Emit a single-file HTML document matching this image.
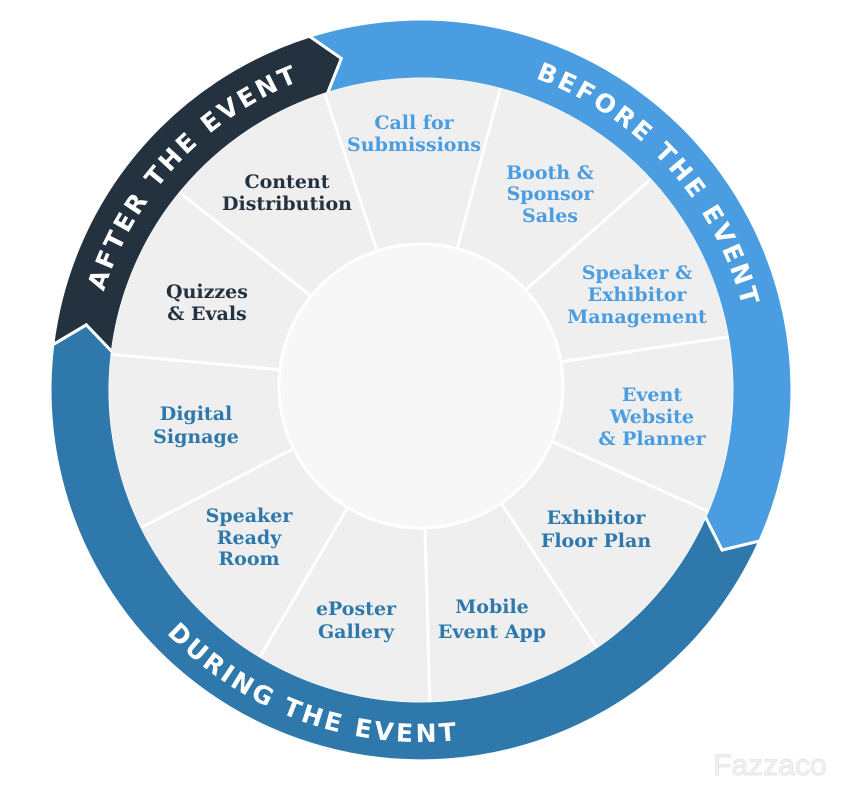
<!DOCTYPE html>
<html><head><meta charset="utf-8"><style>
html,body{margin:0;padding:0;background:#fff;width:856px;height:793px;overflow:hidden}
svg{display:block}
.lb{font-family:"DejaVu Serif","Liberation Serif",serif;font-weight:bold;font-size:19px;text-anchor:middle}
.ring{font-family:"DejaVu Sans","Liberation Sans",sans-serif;font-weight:bold;font-size:25px;fill:#fff;letter-spacing:3px}
.b{fill:#4a9de0}.d{fill:#2f78ab}.a{fill:#24323f}
</style></head><body>
<svg id="s" width="856" height="793" viewBox="0 0 856 793" xmlns="http://www.w3.org/2000/svg">
<defs>
<path id="pA" d="M103.5,487.1 A332,332 0 0 1 495.7,66.5"/>
<path id="pB" d="M352,65.3 A332,332 0 0 1 736.8,492.6"/>
<path id="pD" d="M74.3,451.1 A352,352 0 0 0 647.3,659.6"/>
</defs>
<g id="bands"></g>
<circle cx="421" cy="390" r="312" fill="#efefef"/>
<g id="divs" stroke="#fff" stroke-width="3"></g>
<circle cx="421" cy="386" r="142" fill="#f7f7f7" stroke="#fff" stroke-width="3"/>
<text class="ring"><textPath href="#pA" startOffset="50%" text-anchor="middle">AFTER THE EVENT</textPath></text>
<text class="ring"><textPath href="#pB" startOffset="50%" text-anchor="middle">BEFORE THE EVENT</textPath></text>
<text class="ring"><textPath href="#pD" startOffset="50%" text-anchor="middle">DURING THE EVENT</textPath></text>
<g class="lb">
<text class="b" x="414" y="129">Call for</text><text class="b" x="414" y="151">Submissions</text>
<text class="b" x="550" y="179">Booth &amp;</text><text class="b" x="550" y="200">Sponsor</text><text class="b" x="550" y="222">Sales</text>
<text class="b" x="637" y="279">Speaker &amp;</text><text class="b" x="637" y="301">Exhibitor</text><text class="b" x="637" y="323">Management</text>
<text class="b" x="652" y="401">Event</text><text class="b" x="652" y="423">Website</text><text class="b" x="652" y="445">&amp; Planner</text>
<text class="d" x="596" y="524">Exhibitor</text><text class="d" x="596" y="547">Floor Plan</text>
<text class="d" x="492" y="613">Mobile</text><text class="d" x="492" y="638">Event App</text>
<text class="d" x="356" y="615">ePoster</text><text class="d" x="356" y="638">Gallery</text>
<text class="d" x="249" y="522">Speaker</text><text class="d" x="249" y="544">Ready</text><text class="d" x="249" y="565">Room</text>
<text class="d" x="196" y="420">Digital</text><text class="d" x="196" y="443">Signage</text>
<text class="a" x="207" y="298">Quizzes</text><text class="a" x="207" y="320">&amp; Evals</text>
<text class="a" x="287" y="188">Content</text><text class="a" x="287" y="210">Distribution</text>
</g>
<text x="770" y="775" font-family="Liberation Sans,sans-serif" font-size="30" text-anchor="middle" fill="#f2f2f2" stroke="#e6e6e6" stroke-width="1">Fazzaco</text>
</svg>
<script>
var cx=421,cy=390,Ro=371,Ri=311,Rm=341,T=4;
function p(r,a){a=a*Math.PI/180;return (cx+r*Math.sin(a)).toFixed(1)+","+(cy-r*Math.cos(a)).toFixed(1);}
function band(a1,a2,col){
 var large=(a2-a1)>180?1:0;
 var d="M"+p(Ro,a1)+" A"+Ro+","+Ro+" 0 "+large+" 1 "+p(Ro,a2)+" L"+p(Rm,a2+T)+" L"+p(Ri,a2)+
 " A"+Ri+","+Ri+" 0 "+large+" 0 "+p(Ri,a1)+" L"+p(Rm,a1+T)+" Z";
 return '<path d="'+d+'" fill="'+col+'" stroke="#fff" stroke-width="3" stroke-linejoin="miter"/>';
}
document.getElementById("bands").innerHTML=band(277,342.5,"#24323f")+band(-17.5,114,"#4a9de0")+band(114,277,"#2f78ab");
var s="";
for(var k=0;k<11;k++){var a=-18+k*32.73;var r=a*Math.PI/180;
 s+='<line x1="'+(421+140*Math.sin(r))+'" y1="'+(386-140*Math.cos(r))+'" x2="'+(cx+312*Math.sin(r))+'" y2="'+(cy-312*Math.cos(r))+'"/>';}
document.getElementById("divs").innerHTML=s;
</script>
</body></html>
